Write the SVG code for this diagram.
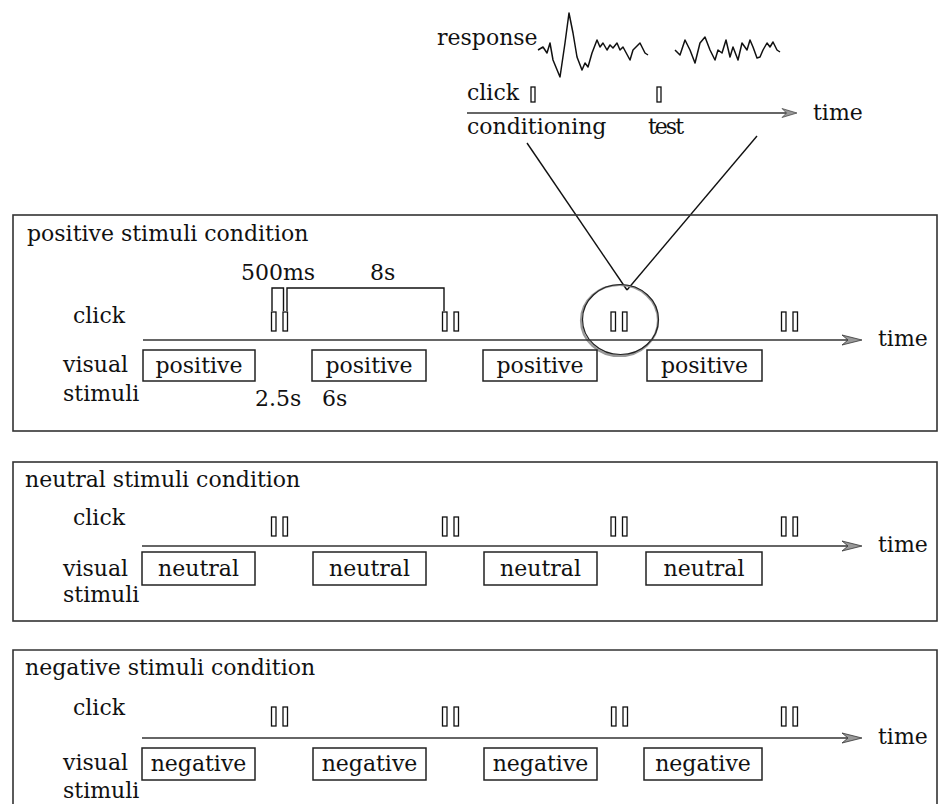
<svg xmlns="http://www.w3.org/2000/svg" width="940" height="804" viewBox="0 0 940 804">
<style>
text{font-family:"DejaVu Serif","Liberation Serif",serif;font-size:22px;fill:#111}
.panel{fill:none;stroke:#333;stroke-width:1.6}
.axis{fill:none;stroke:#333;stroke-width:1.6}
.clk{fill:#fff;stroke:#111;stroke-width:1.3}
.box{fill:#fff;stroke:#222;stroke-width:1.5}
.wave{fill:none;stroke:#111;stroke-width:1.5;stroke-linejoin:round}
.conn{fill:none;stroke:#111;stroke-width:1.4}
.head{fill:#999;stroke:#333;stroke-width:0.8}
.mid{text-anchor:middle}
</style>
<defs>
<path id="arrowhead" class="head" d="M0,0 L-20,-5 L-14,0 L-20,5 Z"/>
<g id="pair"><rect class="clk" x="0" y="0" width="4.5" height="19"/><rect class="clk" x="11.5" y="0" width="4.5" height="19"/></g>
</defs>

<g id="inset">
<text x="437" y="45">response</text>
<polyline class="wave" points="538,50 543,47 547,53 550,43 553,60 560,77 565,43 569,13 573,33 577,57 582,70 585,63 588,67 592,53 597,40 600,47 603,43 607,50 610,45 613,48 617,43 620,50 623,47 630,60 633,50 640,43 645,53 648,55"/>
<polyline class="wave" points="675,50 680,55 685,40 690,50 695,63 700,43 705,37 710,50 715,60 718,50 722,53 726,40 730,57 733,47 738,60 742,43 747,50 750,40 753,47 757,58 760,57 763,50 767,43 770,47 773,42 777,50 780,52"/>
<text x="467" y="100">click</text>
<rect class="clk" x="531" y="87" width="4" height="15"/>
<rect class="clk" x="657" y="87" width="4" height="15"/>
<line class="axis" x1="467" y1="113" x2="793" y2="113"/>
<use href="#arrowhead" transform="translate(797,113) scale(0.75,0.9)"/>
<text x="813" y="120">time</text>
<text x="467" y="134">conditioning</text>
<text x="648" y="134" textLength="36">test</text>
</g>

<g id="connectors">
<line class="conn" x1="527" y1="143" x2="627" y2="290"/>
<line class="conn" x1="757" y1="136" x2="627" y2="290"/>
<ellipse cx="619.5" cy="320.5" rx="38.5" ry="35.5" fill="none" stroke="#999" stroke-width="2.2"/>
<ellipse cx="620.5" cy="319.5" rx="38" ry="35" fill="none" stroke="#222" stroke-width="1.2"/>
</g>

<g id="panel-positive">
<rect class="panel" x="13" y="215" width="924" height="216"/>
<text x="27" y="241">positive stimuli condition</text>
<text x="241" y="280">500ms</text>
<text x="370" y="280">8s</text>
<path class="conn" d="M272,311 V288 H283.5 V311 M287,311 V288 H444 V311" stroke-width="1.2"/>
<text x="73" y="323">click</text>
<use href="#pair" x="271.5" y="312"/>
<use href="#pair" x="442.5" y="312"/>
<use href="#pair" x="611" y="312"/>
<use href="#pair" x="781.5" y="312"/>
<line class="axis" x1="143" y1="340" x2="858" y2="340"/>
<use href="#arrowhead" transform="translate(862,340)"/>
<text x="878" y="346">time</text>
<text x="63" y="372">visual</text>
<text x="63" y="401">stimuli</text>
<rect class="box" x="143" y="350" width="112" height="31"/>
<rect class="box" x="312" y="350" width="114" height="31"/>
<rect class="box" x="483" y="350" width="114" height="31"/>
<rect class="box" x="647" y="350" width="115" height="31"/>
<text class="mid" x="199" y="373">positive</text>
<text class="mid" x="369" y="373">positive</text>
<text class="mid" x="540" y="373">positive</text>
<text class="mid" x="704.5" y="373">positive</text>
<text x="255" y="406">2.5s</text>
<text x="322" y="406">6s</text>
</g>

<g id="panel-neutral">
<rect class="panel" x="13" y="462" width="924" height="159"/>
<text x="25" y="487">neutral stimuli condition</text>
<text x="73" y="525">click</text>
<use href="#pair" x="271.5" y="517"/>
<use href="#pair" x="442.5" y="517"/>
<use href="#pair" x="611" y="517"/>
<use href="#pair" x="781.5" y="517"/>
<line class="axis" x1="142" y1="546" x2="858" y2="546"/>
<use href="#arrowhead" transform="translate(862,546)"/>
<text x="878" y="552">time</text>
<text x="63" y="576">visual</text>
<text x="63" y="602">stimuli</text>
<rect class="box" x="142" y="552" width="113" height="33"/>
<rect class="box" x="313" y="552" width="113" height="33"/>
<rect class="box" x="484" y="552" width="113" height="33"/>
<rect class="box" x="646" y="552" width="116" height="33"/>
<text class="mid" x="198.5" y="576">neutral</text>
<text class="mid" x="369.5" y="576">neutral</text>
<text class="mid" x="540.5" y="576">neutral</text>
<text class="mid" x="704" y="576">neutral</text>
</g>

<g id="panel-negative">
<path class="panel" d="M13,810 V650 H937 V810"/>
<text x="25" y="675">negative stimuli condition</text>
<text x="73" y="715">click</text>
<use href="#pair" x="271.5" y="707"/>
<use href="#pair" x="442.5" y="707"/>
<use href="#pair" x="611.5" y="707"/>
<use href="#pair" x="781.5" y="707"/>
<line class="axis" x1="142" y1="738" x2="858" y2="738"/>
<use href="#arrowhead" transform="translate(862,738)"/>
<text x="878" y="744">time</text>
<text x="63" y="770">visual</text>
<text x="63" y="798">stimuli</text>
<rect class="box" x="142" y="748" width="113" height="32"/>
<rect class="box" x="313" y="748" width="113" height="32"/>
<rect class="box" x="484" y="748" width="113" height="32"/>
<rect class="box" x="644" y="748" width="118" height="32"/>
<text class="mid" x="198.5" y="771">negative</text>
<text class="mid" x="369.5" y="771">negative</text>
<text class="mid" x="540.5" y="771">negative</text>
<text class="mid" x="703" y="771">negative</text>
</g>
</svg>
